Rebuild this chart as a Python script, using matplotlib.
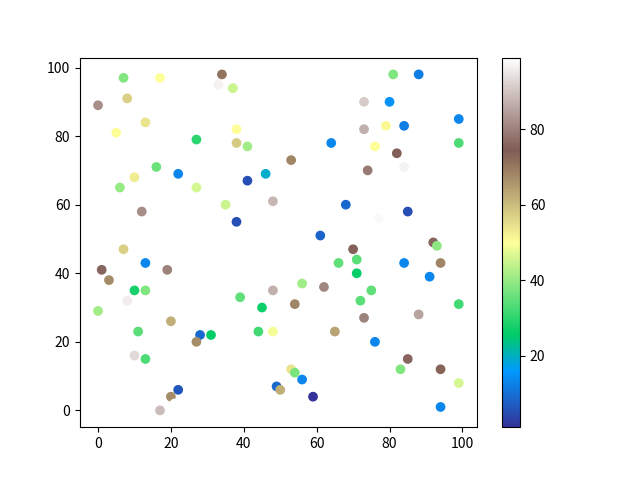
import matplotlib
matplotlib.use("Agg")
import matplotlib.pyplot as plt

plt.rcParams['font.family'] = ['Noto Sans CJK SC', 'DejaVu Sans']

x = [7, 17, 34, 33, 0, 8, 13, 5, 27, 16, 22, 10, 6, 27, 12, 37, 38, 38, 41, 64,
     53, 46, 41, 48, 35, 68, 38, 61, 81, 88, 98, 73, 80, 99, 73, 79, 84, 99, 76, 82,
     74, 84, 85, 77, 92, 93, 70, 7, 13, 1, 19, 3, 10, 13, 8, 0, 20, 11, 28, 31,
     27, 10, 13, 22, 20, 21, 17, 66, 56, 62, 48, 39, 54, 45, 44, 48, 65, 53, 54, 56,
     49, 50, 59, 71, 71, 84, 94, 91, 75, 72, 99, 73, 88, 76, 85, 83, 94, 99, 94]
y = [97, 97, 98, 95, 89, 91, 84, 81, 79, 71, 69, 68, 65, 65, 58, 94, 82, 78, 77, 78,
     73, 69, 67, 61, 60, 60, 55, 51, 98, 98, 93, 90, 90, 85, 82, 83, 83, 78, 77, 75,
     70, 71, 58, 56, 49, 48, 47, 47, 43, 41, 41, 38, 35, 35, 32, 29, 26, 23, 22, 22,
     20, 16, 15, 6, 4, 2, 0, 43, 37, 36, 35, 33, 31, 30, 23, 23, 23, 12, 11, 9,
     7, 6, 4, 44, 40, 43, 43, 39, 35, 32, 31, 27, 28, 20, 15, 12, 12, 8, 1]
c = [38, 50, 71, 97, 82, 57, 54, 50, 30, 36, 13, 53, 40, 46, 82, 45, 50, 58, 41, 13,
     68, 19, 5, 88, 45, 9, 5, 8, 38, 12, 99, 91, 15, 13, 87, 51, 12, 33, 50, 74,
     79, 97, 5, 98, 76, 39, 75, 57, 13, 76, 80, 67, 28, 38, 96, 41, 62, 34, 9, 26,
     67, 93, 33, 6, 67, 99, 89, 35, 41, 81, 87, 35, 68, 27, 32, 49, 64, 54, 37, 13,
     9, 62, 1, 34, 26, 13, 68, 13, 35, 34, 32, 80, 85, 13, 76, 38, 73, 46, 13]

fig = plt.figure(figsize=(6.4, 4.8), dpi=100)
sc = plt.scatter(x, y, c=c, cmap='terrain')
plt.colorbar(sc)
fig.savefig("out.png")
